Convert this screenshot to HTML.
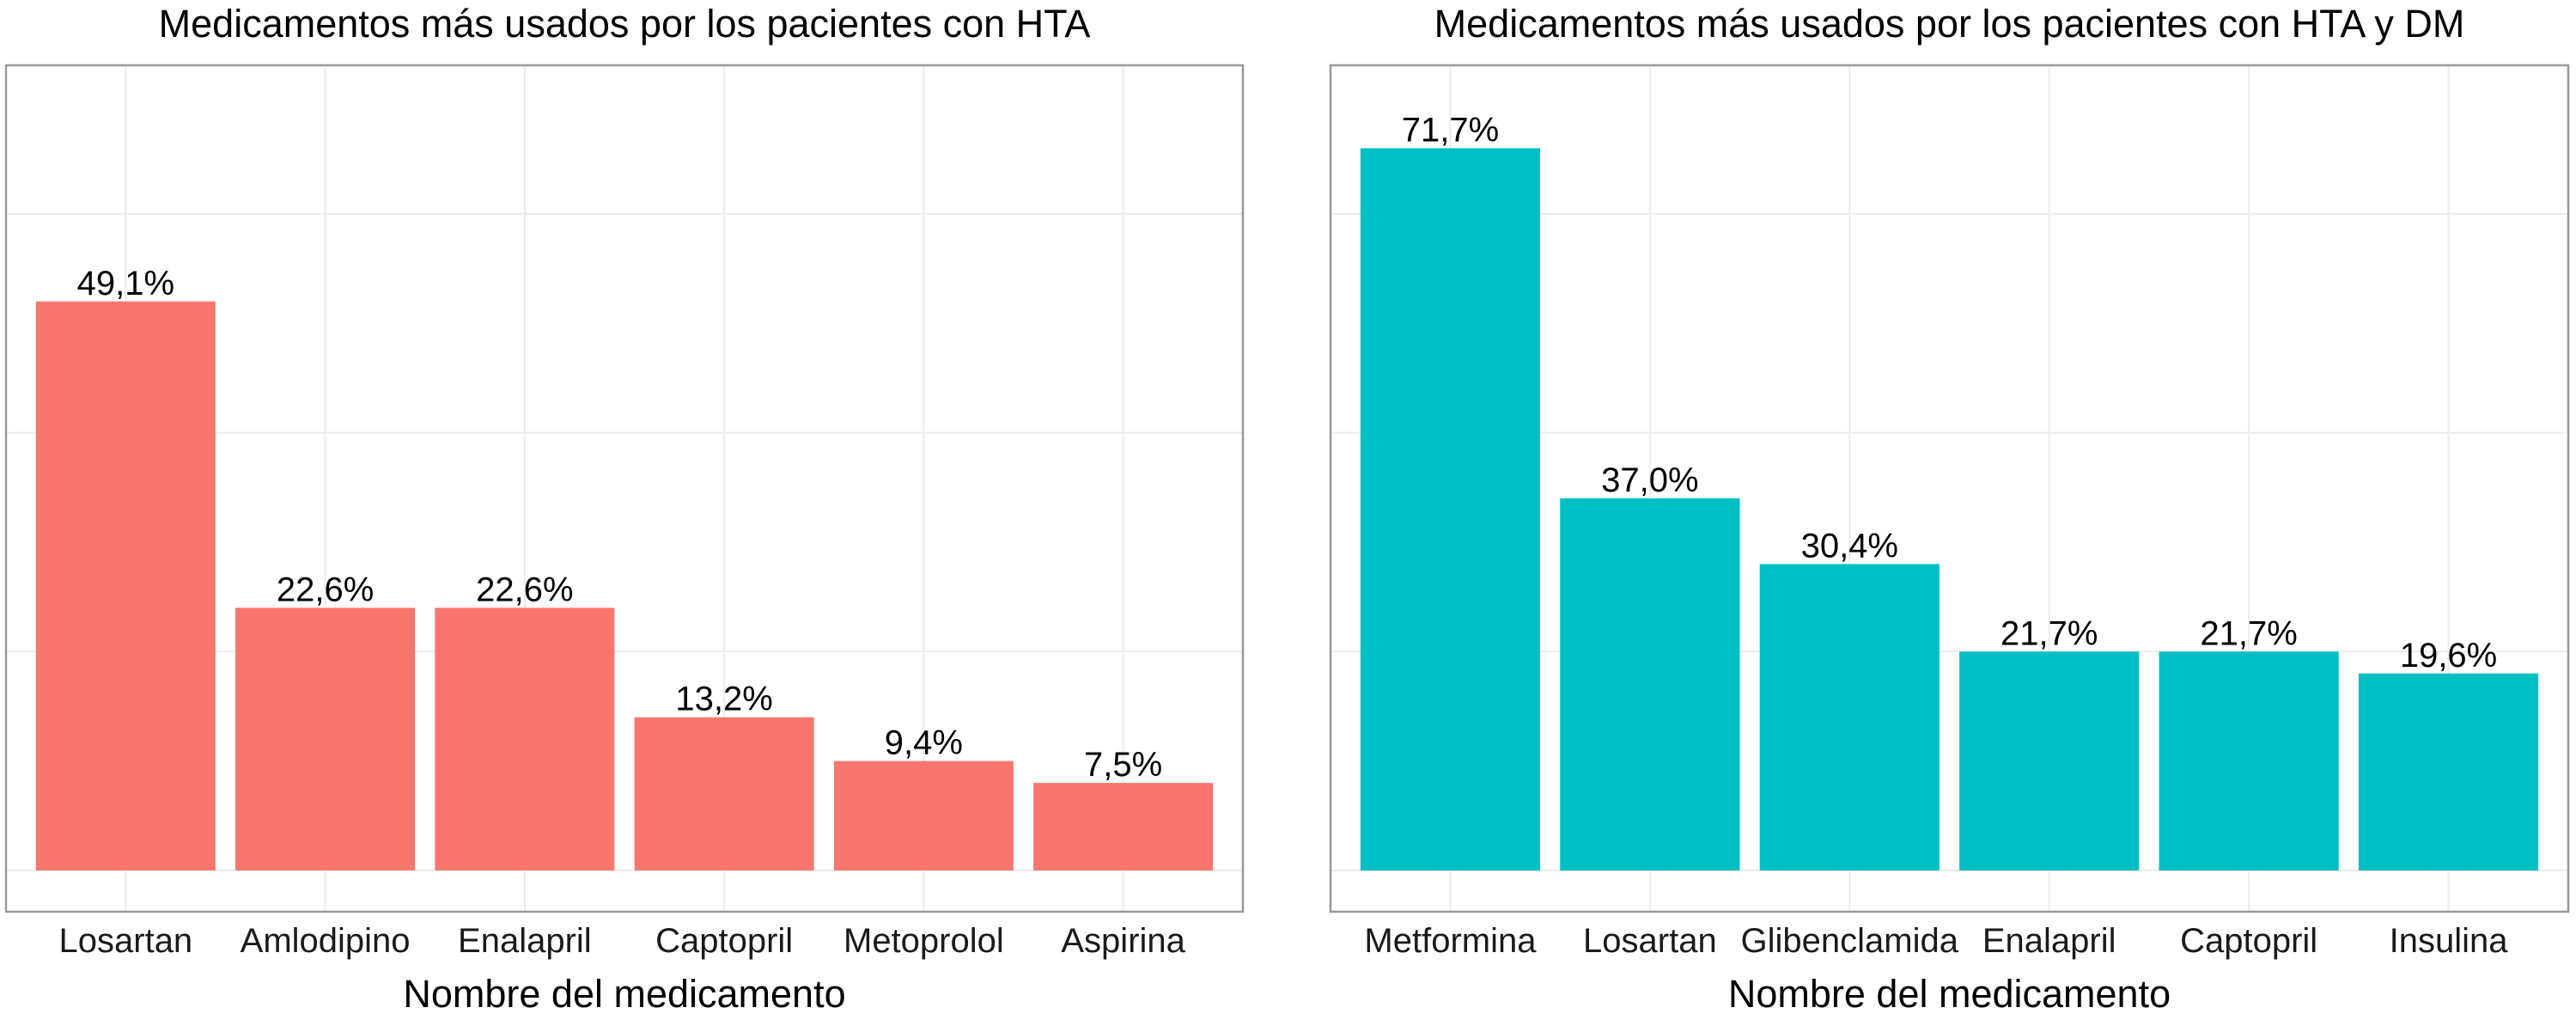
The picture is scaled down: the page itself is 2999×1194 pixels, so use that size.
<!DOCTYPE html>
<html><head><meta charset="utf-8"><style>
body{margin:0;background:#fff}
svg{display:block;font-family:"Liberation Sans",Arial,sans-serif}
</style></head><body>
<svg id="chart" width="2999" height="1194" xmlns="http://www.w3.org/2000/svg"></svg>
<script>
const catsHTA = ["Losartan","Amlodipino","Enalapril","Captopril","Metoprolol","Aspirina"];
const countsHTA = [26,12,12,7,5,4];
const labelsHTA = ["49,1%","22,6%","22,6%","13,2%","9,4%","7,5%"];
const catsDM = ["Metformina","Losartan","Glibenclamida","Enalapril","Captopril","Insulina"];
const countsDM = [33,17,14,10,10,9];
const labelsDM = ["71,7%","37,0%","30,4%","21,7%","21,7%","19,6%"];
const yTicks = [0,10,20,30];
const titles = ["Medicamentos más usados por los pacientes con HTA","Medicamentos más usados por los pacientes con HTA y DM"];

const NS="http://www.w3.org/2000/svg";
const svgEl=document.getElementById('chart');
function mk(tag,attrs,parent){const e=document.createElementNS(NS,tag);for(const k in attrs)e.setAttribute(k,attrs[k]);(parent||svgEl).appendChild(e);return e;}
const baseY=1013, pxPerCount=25.47, plotTop=76, plotBottom=1061;
function yScale(v){return baseY-v*pxPerCount;}

function panel(x0,x1,cats,counts,labels,color,title,key){
  const g=mk('g',{});
  
  
  const unit=(x1-x0)/(cats.length+0.2);
  const xScale=i=>x0+(i+0.6)*unit;
  yTicks.forEach(t=>{
    const l=mk('line',{x1:x0,x2:x1,y1:yScale(t),y2:yScale(t),stroke:'#ebebeb','stroke-width':2},g);
    
    
  });
  cats.forEach((c,i)=>{
    const l=mk('line',{x1:xScale(i),x2:xScale(i),y1:plotTop,y2:plotBottom,stroke:'#ebebeb','stroke-width':2},g);
    
    
  });
  cats.forEach((c,i)=>{
    const w=unit*0.9, cx=xScale(i), y=yScale(counts[i]);
    const r=mk('rect',{x:cx-w/2,y:y,width:w,height:baseY-y,fill:color},g);
    
    
    const t=mk('text',{x:cx,y:y-8,'font-size':40,'text-anchor':'middle',fill:'#000'},g);
    t.textContent=labels[i];
    
    
    const tl=mk('text',{x:cx,y:1108,'font-size':40,'text-anchor':'middle',fill:'#1a1a1a'},g);
    tl.textContent=c;
    
    
  });
  const b=mk('rect',{x:x0,y:plotTop,width:x1-x0,height:plotBottom-plotTop,fill:'none',stroke:'#999','stroke-width':2.5},g);
  
  
  const tt=mk('text',{x:(x0+x1)/2,y:43,'font-size':45,'text-anchor':'middle',fill:'#000'},g);
  tt.textContent=title;
  
  
  const xt=mk('text',{x:(x0+x1)/2,y:1172,'font-size':45,'text-anchor':'middle',fill:'#000'},g);
  xt.textContent='Nombre del medicamento';
  
  
}
panel(7,1447,catsHTA,countsHTA,labelsHTA,'#f8766d',titles[0],'hta');
panel(1549,2990,catsDM,countsDM,labelsDM,'#00bfc4',titles[1],'hta-dm');
</script>
</body></html>
